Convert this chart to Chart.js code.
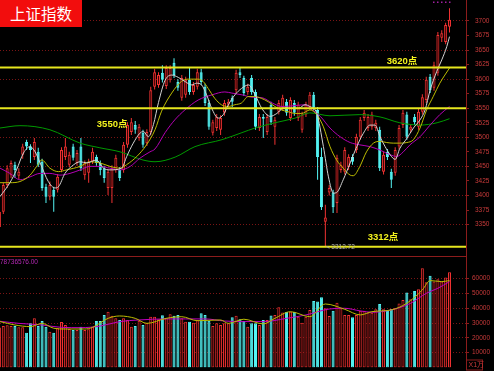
<!DOCTYPE html>
<html>
<head>
<meta charset="utf-8">
<title>上证指数</title>
<script src="https://cdn.jsdelivr.net/npm/chart.js"></script>
<style>
  html, body { margin: 0; padding: 0; background: #000; }
  #stage { position: relative; width: 494px; height: 371px; overflow: hidden; background: #000; }
  #priceChart { position: absolute; left: 0; top: 0; }
  #volChart { position: absolute; left: 0; top: 256px; }
  #title { position: absolute; left: 0; top: 0; width: 82px; height: 27px; background: #f20d0d; color: #fff;
           font: 15.5px "Noto Sans CJK SC", sans-serif; line-height: 27px; padding-left: 10px; box-sizing: border-box; }
</style>
</head>
<body>
<div id="stage">
  <canvas id="priceChart" width="494" height="256"></canvas>
  <canvas id="volChart" width="494" height="115"></canvas>
  <div id="title">上证指数</div>
</div>
<script>
// 上证指数 daily K-line with MA5/10/20/60 and volume panel

// the first candle is cut by the left edge
const firstIndex = -1;

// OHLC per day (rows of 10)
const openP = [
  3346, 3372, 3418, 3435, 3453, 3434, 3470, 3492, 3484, 3466,
  3475, 3458, 3415, 3398, 3410, 3410, 3444, 3466, 3453, 3484,
  3456, 3484, 3435, 3439, 3458, 3466, 3456, 3447, 3413, 3413,
  3444, 3444, 3444, 3487, 3509, 3521, 3499, 3508, 3490, 3509,
  3587, 3590, 3611, 3588, 3599, 3628, 3595, 3568, 3573, 3599,
  3578, 3587, 3612, 3587, 3559, 3508, 3516, 3513, 3542, 3556,
  3568, 3581, 3612, 3602, 3578, 3602, 3578, 3516, 3535, 3509,
  3556, 3518, 3544, 3551, 3561, 3533, 3559, 3533, 3513, 3539,
  3552, 3573, 3547, 3466, 3355, 3405, 3405, 3387, 3444, 3441,
  3449, 3466, 3478, 3501, 3533, 3516, 3518, 3516, 3513, 3441,
  3475, 3441, 3439, 3484, 3521, 3539, 3513, 3535, 3518, 3544,
  3564, 3604, 3585, 3611, 3671, 3664, 3690
];
const highP = [
  3375, 3422, 3452, 3460, 3458, 3447, 3489, 3496, 3488, 3499,
  3482, 3463, 3420, 3424, 3415, 3437, 3483, 3499, 3475, 3489,
  3478, 3499, 3460, 3463, 3482, 3470, 3460, 3451, 3446, 3452,
  3470, 3449, 3492, 3526, 3533, 3528, 3523, 3513, 3514, 3587,
  3618, 3612, 3624, 3624, 3624, 3636, 3600, 3607, 3604, 3619,
  3595, 3618, 3618, 3592, 3564, 3530, 3540, 3538, 3564, 3566,
  3572, 3616, 3619, 3606, 3592, 3607, 3582, 3540, 3540, 3540,
  3561, 3535, 3564, 3573, 3566, 3569, 3564, 3561, 3544, 3561,
  3578, 3578, 3552, 3482, 3384, 3418, 3410, 3470, 3458, 3483,
  3471, 3471, 3506, 3535, 3547, 3540, 3544, 3530, 3518, 3475,
  3480, 3446, 3483, 3521, 3547, 3544, 3523, 3540, 3549, 3574,
  3604, 3609, 3630, 3681, 3684, 3697, 3722
];
const lowP = [
  3340, 3368, 3413, 3430, 3430, 3428, 3463, 3478, 3456, 3461,
  3449, 3408, 3387, 3392, 3372, 3405, 3440, 3461, 3449, 3460,
  3451, 3442, 3427, 3422, 3454, 3451, 3435, 3422, 3401, 3387,
  3439, 3425, 3439, 3482, 3504, 3506, 3494, 3482, 3485, 3504,
  3582, 3585, 3594, 3583, 3594, 3602, 3580, 3563, 3568, 3573,
  3573, 3582, 3590, 3554, 3513, 3503, 3511, 3504, 3537, 3552,
  3552, 3576, 3602, 3571, 3573, 3573, 3513, 3511, 3499, 3504,
  3521, 3487, 3539, 3546, 3537, 3528, 3537, 3528, 3508, 3535,
  3547, 3546, 3427, 3375, 3312.72, 3400, 3370, 3370, 3439, 3436,
  3444, 3453, 3473, 3496, 3528, 3511, 3513, 3511, 3442, 3436,
  3461, 3413, 3434, 3479, 3516, 3496, 3508, 3521, 3513, 3539,
  3559, 3576, 3580, 3606, 3664, 3660, 3680
];
const closeP = [
  3372, 3418, 3447, 3456, 3444, 3441, 3484, 3484, 3478, 3492,
  3453, 3413, 3398, 3418, 3398, 3432, 3478, 3484, 3470, 3465,
  3473, 3447, 3456, 3458, 3475, 3456, 3444, 3430, 3441, 3447,
  3465, 3430, 3487, 3521, 3526, 3513, 3518, 3487, 3509, 3581,
  3612, 3607, 3599, 3619, 3619, 3607, 3585, 3602, 3599, 3578,
  3590, 3612, 3595, 3559, 3518, 3526, 3535, 3533, 3559, 3561,
  3561, 3611, 3607, 3576, 3587, 3578, 3518, 3535, 3532, 3535,
  3526, 3530, 3559, 3568, 3542, 3564, 3542, 3556, 3539, 3556,
  3573, 3551, 3466, 3380, 3362, 3413, 3380, 3465, 3453, 3478,
  3466, 3458, 3501, 3530, 3542, 3535, 3539, 3525, 3447, 3470,
  3466, 3427, 3478, 3516, 3542, 3501, 3518, 3526, 3544, 3569,
  3599, 3581, 3624, 3676, 3679, 3693, 3702
];
const volume = [
  27000, 28000, 28500, 28000, 28000, 27100, 27100, 23500, 29800, 33200,
  28000, 31400, 27600, 24200, 23500, 26500, 30700, 28700, 26000, 25300,
  25300, 27600, 25300, 25800, 27600, 31400, 31400, 35500, 37700, 35000,
  33200, 32100, 33200, 32100, 27600, 28000, 31600, 28700, 30300, 34300,
  34300, 32600, 35300, 33200, 36000, 35000, 35500, 33200, 30900, 30900,
  30300, 32100, 36600, 35500, 31600, 28000, 29800, 28700, 29800, 29800,
  33900, 35000, 32600, 31400, 27600, 29800, 29800, 28700, 32100, 32100,
  35200, 35500, 40700, 37100, 37500, 37700, 37500, 34300, 30300, 34300,
  38800, 44900, 44500, 47500, 40000, 34800, 38400, 43800, 40000, 35500,
  35500, 33900, 35500, 38400, 38400, 37200, 37000, 39300, 42900, 39300,
  38900, 39500, 40000, 43300, 45600, 50600, 46100, 51700, 52800, 67000,
  57500, 62000, 58000, 59600, 58000, 60700, 64300
];

// moving averages (day index -> value)
const ma5At = [-0.85, 1.7, 3.4, 5.2, 6.9, 8.2, 9.5, 11.6, 13.3, 14.2, 15.9, 17.6, 19.8, 21.5, 24, 25.8, 27.5, 30.5, 31.8, 33.5,
  35.2, 36.1, 37.4, 38.7, 40, 41.7, 43.4, 45.1, 46.8, 48.6, 49.8, 51.1, 52.4, 53.7, 55.4, 56.7, 58, 59.7, 61.4, 63.2,
  64.9, 66.6, 68.8, 70.5, 72.2, 73.9, 76.1, 77.8, 79, 80.8, 82.5, 83.8, 85.1, 85.9, 87.6, 89.4, 91.1, 92.8, 94.5, 95.8,
  97.1, 98.4, 99.7, 101, 102.2, 104, 105.7, 107.4, 108.7, 110, 111.7, 113, 114.3, 115];
const ma5 = [3398, 3422, 3444, 3473, 3484, 3475, 3456, 3424, 3413, 3415, 3438, 3450, 3458, 3456, 3461, 3447, 3444, 3447, 3467, 3490,
  3507, 3510, 3501, 3522, 3560, 3598, 3607, 3603, 3596, 3590, 3593, 3590, 3573, 3550, 3533, 3539, 3556, 3573, 3584, 3590,
  3573, 3550, 3536, 3541, 3550, 3550, 3550, 3556, 3553, 3541, 3484, 3432, 3404, 3405, 3427, 3456, 3484, 3507, 3521, 3521,
  3501, 3484, 3470, 3462, 3481, 3498, 3516, 3530, 3547, 3581, 3613, 3633, 3656, 3673];
const ma10At = [-0.85, 1.7, 4.3, 6.9, 8.6, 9.9, 12, 14.2, 16.3, 19.8, 22.3, 24.9, 27.5, 30.1, 31.8, 34.4, 36.9, 39.1, 40.8, 43.4,
  45.9, 47.6, 50.2, 51.5, 52.8, 54.5, 56.2, 57.9, 59.7, 61.4, 63.1, 64.8, 66.5, 68.3, 70, 71.7, 73.4, 75.2, 76.9, 79,
  80.8, 82.5, 84.2, 85.9, 87.6, 89.4, 90.2, 91.9, 93.6, 95.4, 97.1, 98.8, 100.5, 102.2, 104, 105.7, 107.4, 109.1, 110.8, 112.5,
  113.8, 115];
const ma10 = [3422, 3422, 3424, 3435, 3450, 3461, 3447, 3441, 3444, 3450, 3458, 3456, 3450, 3447, 3453, 3467, 3487, 3513, 3545, 3576,
  3596, 3600, 3600, 3596, 3584, 3567, 3556, 3553, 3556, 3559, 3570, 3570, 3567, 3561, 3553, 3547, 3544, 3541, 3541, 3547,
  3539, 3518, 3484, 3461, 3447, 3435, 3434, 3450, 3475, 3490, 3493, 3491, 3490, 3490, 3491, 3496, 3516, 3547, 3570, 3593,
  3607, 3619];
const ma20At = [-0.85, 1.7, 4.3, 6.9, 9.5, 12, 14.6, 17.2, 19.8, 22.3, 24.9, 27.5, 30.1, 32.7, 35.2, 37.8, 39.1, 41.7, 44.2, 46.8,
  50.2, 53.8, 57.1, 58.9, 61.5, 64.1, 66.7, 69.3, 71.8, 74.4, 77.8, 79, 81.7, 84.2, 86.8, 89.4, 91.9, 94.5, 97.1, 99.7,
  101.4, 103.1, 104.8, 107.4, 110, 112.5, 115];
const ma20 = [3447, 3438, 3427, 3432, 3438, 3438, 3435, 3438, 3444, 3450, 3450, 3447, 3444, 3450, 3464, 3475, 3480, 3508, 3530, 3547,
  3564, 3573, 3578, 3576, 3573, 3569, 3568, 3559, 3553, 3554, 3556, 3550, 3536, 3516, 3501, 3491, 3487, 3484, 3478, 3470,
  3467, 3475, 3487, 3501, 3521, 3539, 3553];
const ma60At = [-0.85, 4.3, 12, 19.8, 24.9, 30.1, 36, 39.1, 44.3, 49.4, 56.4, 61.5, 64.9, 70, 75.2, 79, 84.2, 91.9, 97.1, 102.2,
  107.4, 111.8, 115];
const ma60 = [3516, 3520, 3513, 3490, 3482, 3475, 3461, 3458, 3466, 3484, 3496, 3508, 3516, 3525, 3533, 3542, 3537, 3539, 3535, 3525,
  3521, 3525, 3532];

// volume moving averages
const vma5At = [-0.85, 3, 7, 10, 13, 16, 21, 23, 27, 30, 34, 37, 42, 46, 50, 56, 58, 62, 67, 70, 74, 79, 83, 88, 92, 95, 100, 104, 108, 110, 113, 115];
const vma5 = [31000, 28700, 27600, 29800, 26500, 26000, 26000, 27100, 33200, 34800, 33200, 29800, 33200, 34300, 31600, 32100, 29800,
  32600, 29400, 33200, 37700, 34300, 42900, 39300, 35500, 37700, 38900, 43400, 52400, 58700, 58000, 58700];
const vma10At = [-0.85, 4, 10, 15, 20, 25, 30, 35, 42, 47, 52, 57, 62, 67, 73, 78, 84, 88, 92, 95, 100, 105, 109, 112, 115];
const vma10 = [31200, 29800, 28700, 27100, 26900, 28000, 31000, 32100, 32800, 32800, 32800, 31400, 31000, 31000, 33200, 35500,
  39500, 40000, 38200, 37300, 38900, 43400, 50100, 53500, 58000];

// axis ticks and marked levels
const priceTicks = [3350, 3375, 3400, 3425, 3450, 3475, 3500, 3525, 3550, 3575, 3600, 3625, 3650, 3675, 3700];
const volTicks = [10000, 20000, 30000, 40000, 50000, 60000];
const levels = [3620, 3550, 3312];
const levelNotes = ['3620点', '3550点', '3312点'];
const volTotalText = '78736576.00';
const volUnitText = 'X1万';

// layout of the notes (day index for left edge, pixel shift from the level line)
const levelNoteSpots = [{ at: 98.8, dy: -6 }, { at: 24.1, dy: 16 }, { at: 93.9, dy: -9 }];

const xMin = -0.85, xMax = 119.25;

const UP = '#f03232';
const UP_FILL = '#3a0404';
const DOWN = '#54f4f4';
const GRID = '#7a1414';
const AXIS = '#8c1c1c';
const LABEL = '#c83a3a';
const SMALL_FONT = { size: 6.5, family: '"Liberation Sans", Arial, sans-serif' };

const upDay = closeP.map((c, i) => c >= openP[i]);
const dayX = closeP.map((_, i) => firstIndex + i);

function pairs(xs, ys) {
    return xs.map((x, i) => ({ x: x, y: ys[i] }));
}

function maLine(label, xs, ys, color, order) {
    return {
        type: 'line', label: label, data: pairs(xs, ys),
        borderColor: color, borderWidth: 1, pointRadius: 0,
        cubicInterpolationMode: 'monotone', order: order
    };
}

// right axis of fixed width, no extra padding above/below
function fixedAxis(width) {
    return function (scale) {
        scale.width = width;
        scale.paddingTop = 0;
        scale.paddingBottom = 0;
    };
}

function rightAxis(min, max, ticks, padding, gridOn) {
    return {
        position: 'right', min: min, max: max,
        afterBuildTicks: (s) => { s.ticks = ticks.map(v => ({ value: v })); },
        afterFit: fixedAxis(28),
        grid: {
            color: (c) => (c.tick && gridOn(c.tick.value)) ? GRID : 'rgba(0,0,0,0)',
            tickColor: AXIS, tickLength: 3, lineWidth: 1
        },
        border: { color: AXIS, width: 1, dash: [1, 2] },
        ticks: { color: LABEL, font: SMALL_FONT, padding: padding, autoSkip: false, callback: (v) => String(v) }
    };
}

const baseOptions = {
    responsive: false,
    animation: false,
    events: [],
    plugins: { legend: { display: false }, tooltip: { enabled: false } }
};

// notes on the price panel
const priceNotes = {
    id: 'priceNotes',
    afterDatasetsDraw(chart) {
        const { ctx, chartArea, scales: { x, y } } = chart;
        ctx.save();
        ctx.font = 'bold 9.5px "Liberation Sans", "Noto Sans CJK SC", sans-serif';
        ctx.fillStyle = '#f4f41e';
        ctx.textBaseline = 'middle';
        levels.forEach((v, i) => {
            const spot = levelNoteSpots[i];
            ctx.fillText(levelNotes[i], x.getPixelForValue(spot.at), y.getPixelForValue(v) + spot.dy);
        });
        // lowest low
        const lowest = Math.min(...lowP);
        const li = lowP.indexOf(lowest);
        const lx = x.getPixelForValue(dayX[li]);
        const ly = y.getPixelForValue(lowest);
        ctx.strokeStyle = '#a8a8a8';
        ctx.lineWidth = 1;
        ctx.beginPath();
        ctx.moveTo(lx + 1, ly);
        ctx.lineTo(lx + 4, ly + 2);
        ctx.stroke();
        ctx.font = '6.5px "Liberation Sans", Arial, sans-serif';
        ctx.fillStyle = '#b4b4b4';
        ctx.fillText(lowest.toFixed(2), lx + 6, ly + 1);
        // small dotted marker top right
        ctx.fillStyle = '#a020a0';
        for (let i = 0; i < 5; i++) ctx.fillRect(chartArea.right - 33 + i * 4, 1.5, 1.5, 1.5);
        ctx.restore();
    }
};

new Chart(document.getElementById('priceChart'), {
    type: 'bar',
    data: {
        datasets: [
            ...levels.map(v => ({
                type: 'line', data: [{ x: xMin, y: v }, { x: xMax, y: v }],
                borderColor: '#e6e61e', borderWidth: 2, pointRadius: 0, order: 0
            })),
            maLine('MA5', ma5At, ma5, '#d2d2d2', 1),
            maLine('MA10', ma10At, ma10, '#bcbc00', 2),
            maLine('MA20', ma20At, ma20, '#b400b4', 3),
            maLine('MA60', ma60At, ma60, '#009a00', 4),
            {
                label: 'body',
                data: dayX.map((x, i) => ({ x: x, y: [openP[i], closeP[i]] })),
                backgroundColor: upDay.map(u => u ? UP_FILL : DOWN),
                borderColor: upDay.map(u => u ? UP : DOWN),
                borderWidth: 1, borderSkipped: false, barThickness: 3,
                grouped: false, inflateAmount: 0, order: 5
            },
            {
                label: 'wick',
                data: dayX.map((x, i) => ({ x: x, y: [lowP[i], highP[i]] })),
                backgroundColor: upDay.map(u => u ? UP : DOWN),
                borderWidth: 0, barThickness: 1,
                grouped: false, inflateAmount: 0, order: 6
            }
        ]
    },
    options: {
        ...baseOptions,
        layout: { padding: 0 },
        scales: {
            x: { type: 'linear', min: xMin, max: xMax, offset: false, display: false },
            y: rightAxis(3296, 3736, priceTicks, 6, v => v % 50 === 0)
        }
    },
    plugins: [priceNotes]
});

// separator, total volume and unit box on the volume panel
const volNotes = {
    id: 'volNotes',
    afterDatasetsDraw(chart) {
        const { ctx, chartArea } = chart;
        ctx.save();
        ctx.strokeStyle = AXIS;
        ctx.lineWidth = 1;
        ctx.beginPath();
        ctx.moveTo(chartArea.left, chartArea.top + 0.5);
        ctx.lineTo(chartArea.right, chartArea.top + 0.5);
        ctx.stroke();
        ctx.strokeRect(chartArea.right + 0.5, chartArea.bottom - 7.5, 16, 10);
        ctx.font = '6.5px "Liberation Sans", Arial, sans-serif';
        ctx.textBaseline = 'middle';
        ctx.fillStyle = '#b428b4';
        ctx.fillText(volTotalText, chartArea.left, chartArea.top + 6);
        ctx.font = '7px "Liberation Sans", "Noto Sans CJK SC", sans-serif';
        ctx.fillStyle = LABEL;
        ctx.fillText(volUnitText, chartArea.right + 2.5, chartArea.bottom - 2.5);
        ctx.restore();
    }
};

new Chart(document.getElementById('volChart'), {
    type: 'bar',
    data: {
        datasets: [
            maLine('VMA5', vma5At, vma5, '#bcbc00', 1),
            maLine('VMA10', vma10At, vma10, '#c000c0', 2),
            {
                label: 'volume',
                data: dayX.map((x, i) => ({ x: x, y: volume[i] })),
                backgroundColor: upDay.map(u => u ? UP_FILL : DOWN),
                borderColor: upDay.map(u => u ? UP : DOWN),
                borderWidth: 1, borderSkipped: false, barThickness: 3,
                grouped: false, inflateAmount: 0, order: 3
            }
        ]
    },
    options: {
        ...baseOptions,
        layout: { padding: { top: 0, left: 0, right: 0, bottom: 3.5 } },
        scales: {
            x: { type: 'linear', min: xMin, max: xMax, offset: false, display: false },
            y: rightAxis(0, 75300, volTicks, 3, () => true)
        }
    },
    plugins: [volNotes]
});
</script>
</body>
</html>
